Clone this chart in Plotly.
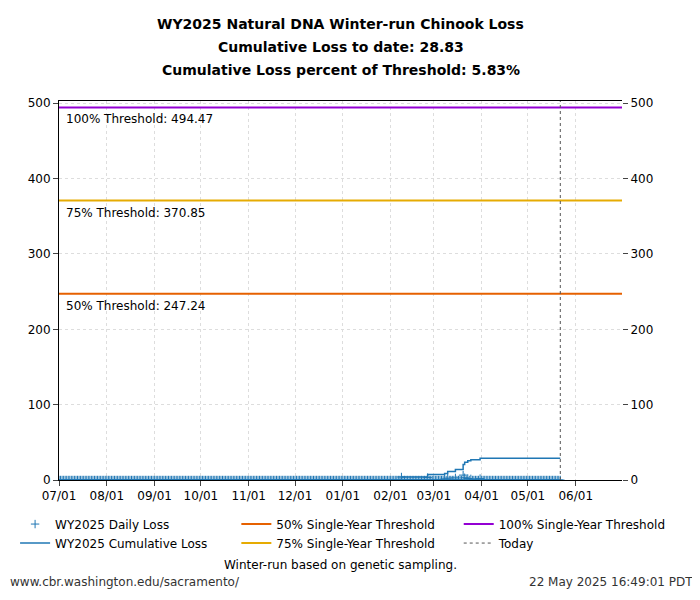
import pandas as pd
import plotly.graph_objects as go

loss_dates = ["2025-02-08","2025-02-25","2025-03-08","2025-03-10","2025-03-15","2025-03-20","2025-03-21","2025-03-23","2025-03-25","2025-03-31"]
loss_vals = [4.0,3.2,1.5,2.5,2.8,6.5,3.0,2.0,1.5,1.83]
thr_labels = ["50% Single-Year Threshold","75% Single-Year Threshold","100% Single-Year Threshold"]
thr_vals = [247.24,370.85,494.47]
thr_colors = ["#e66100","#e6ab02","#9400d3"]
thr_text = ["50% Threshold: 247.24","75% Threshold: 370.85","100% Threshold: 494.47"]
thr_legend = ["legend2","legend2","legend3"]
today = "2025-05-22"
x_ticks = ["2024-07-01","2024-08-01","2024-09-01","2024-10-01","2024-11-01","2024-12-01","2025-01-01","2025-02-01","2025-03-01","2025-04-01","2025-05-01","2025-06-01"]
x_ticktext = ["07/01","08/01","09/01","10/01","11/01","12/01","01/01","02/01","03/01","04/01","05/01","06/01"]
title_lines = ["WY2025 Natural DNA Winter-run Chinook Loss","Cumulative Loss to date: 28.83","Cumulative Loss percent of Threshold: 5.83%"]

days = pd.date_range("2024-07-01", today, freq="D")
daily = pd.Series(0.0, index=days)
for d, v in zip(loss_dates, loss_vals):
    daily[pd.Timestamp(d)] = v
cum = daily.cumsum()

blue = "#1f77b4"
fig = go.Figure()
fig.add_trace(go.Scatter(x=days, y=daily.values, mode="markers", name="WY2025 Daily Loss", legend="legend",
                         marker=dict(symbol="cross-thin", size=6, line=dict(color=blue, width=1), color=blue)))
fig.add_trace(go.Scatter(x=days, y=cum.values, mode="lines", name="WY2025 Cumulative Loss", legend="legend",
                         line=dict(color=blue, width=1.5, shape="hv")))
for lab, v, c, lg in zip(thr_labels, thr_vals, thr_colors, thr_legend):
    fig.add_trace(go.Scatter(x=["2024-07-01","2025-07-01"], y=[v, v], mode="lines", name=lab, legend=lg,
                             line=dict(color=c, width=2)))
fig.add_trace(go.Scatter(x=[today, today], y=[0, 505], mode="lines", name="Today", legend="legend3",
                         line=dict(color="#555", width=1, dash="dot")))
fig.add_trace(go.Scatter(x=[None], y=[None], yaxis="y2", showlegend=False))
for t, v in zip(thr_text, thr_vals):
    fig.add_annotation(x="2024-07-04", y=v, text=t, showarrow=False, xanchor="left", yanchor="top",
                       yshift=-3, font=dict(size=12, color="black"))
for i, t in enumerate(title_lines):
    fig.add_annotation(text="<b>" + t + "</b>", xref="paper", yref="paper", x=0.5, y=1,
                       yshift=77 - 23 * i, yanchor="middle", showarrow=False, font=dict(size=14))

leg = dict(orientation="v", yanchor="top", font=dict(size=12), tracegroupgap=0, bgcolor="rgba(0,0,0,0)",
           itemwidth=30)
fig.update_layout(
    width=700, height=600, plot_bgcolor="white", paper_bgcolor="white",
    font=dict(family="DejaVu Sans", size=12, color="black"),
    margin=dict(l=51, r=86, t=93, b=128, autoexpand=False),
    xaxis=dict(type="date", range=["2024-07-01","2025-07-01"], tickvals=x_ticks, ticktext=x_ticktext,
               showgrid=True, gridcolor="#ddd", griddash="dot", showline=True, linecolor="black",
               ticks="outside", mirror=True, zeroline=False),
    yaxis=dict(range=[0, 503], tickvals=[0,100,200,300,400,500], showgrid=True, gridcolor="#ddd",
               griddash="dot", showline=True, linecolor="black", ticks="outside", zeroline=False),
    yaxis2=dict(range=[0, 503], tickvals=[0,100,200,300,400,500], overlaying="y", side="right",
                ticks="outside", showgrid=False, zeroline=False),
    legend=dict(leg, x=-0.078, y=-0.078, xanchor="left"),
    legend2=dict(leg, x=0.315, y=-0.078, xanchor="left"),
    legend3=dict(leg, x=0.71, y=-0.078, xanchor="left"),
    showlegend=True,
)
fig.add_annotation(text="Winter-run based on genetic sampling.", xref="paper", yref="paper", x=0.5, y=-0.249,
                   showarrow=False, font=dict(size=12))
fig.add_annotation(text="www.cbr.washington.edu/sacramento/", xref="paper", yref="paper", x=-0.09, y=-0.294,
                   xanchor="left", showarrow=False, font=dict(size=12, color="#333"))
fig.add_annotation(text="22 May 2025 16:49:01 PDT", xref="paper", yref="paper", x=1.13, y=-0.294,
                   xanchor="right", showarrow=False, font=dict(size=12, color="#333"))
fig.write_html("out.html")
